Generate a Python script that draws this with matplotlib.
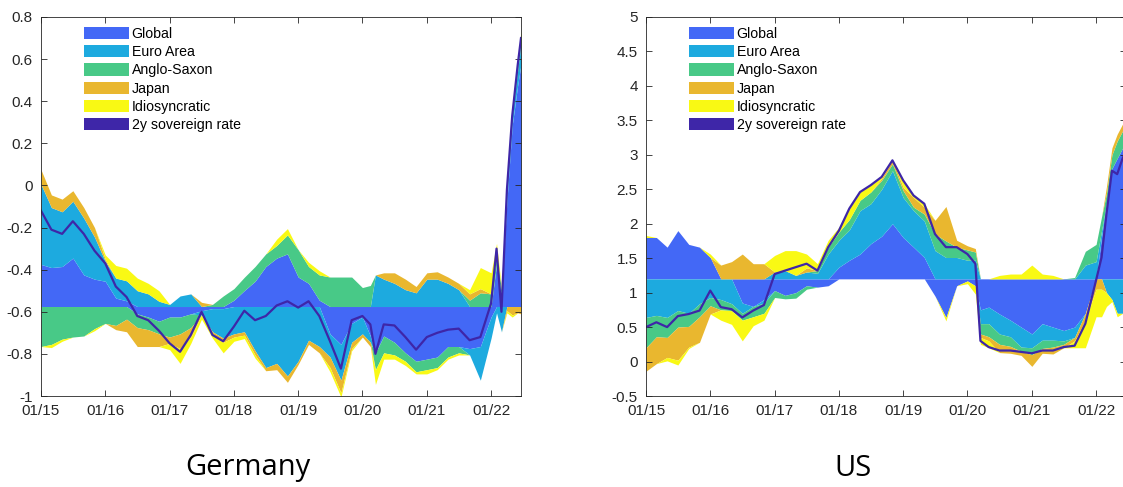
import numpy as np
import pandas as pd
import matplotlib
matplotlib.use("Agg")
import matplotlib.pyplot as plt
import matplotlib.dates as mdates
from matplotlib.patches import Patch
from matplotlib.ticker import FuncFormatter

plt.rcParams['font.family'] = ['Liberation Sans', 'DejaVu Sans']

# sample dates (roughly every two months)
dates = pd.to_datetime([
    '2015-01-01', '2015-03-01', '2015-05-01', '2015-07-01', '2015-09-01', '2015-11-01',
    '2016-01-01', '2016-03-01', '2016-05-01', '2016-07-01', '2016-09-01', '2016-11-01',
    '2017-01-01', '2017-03-01', '2017-05-01', '2017-07-01', '2017-09-01', '2017-11-01',
    '2018-01-01', '2018-03-01', '2018-05-01', '2018-07-01', '2018-09-01', '2018-11-01',
    '2019-01-01', '2019-03-01', '2019-05-01', '2019-07-01', '2019-09-01', '2019-11-01',
    '2020-01-01', '2020-02-15', '2020-03-15', '2020-05-01', '2020-07-01', '2020-09-01', '2020-11-01',
    '2021-01-01', '2021-03-01', '2021-05-01', '2021-07-01', '2021-09-01', '2021-11-01',
    '2022-01-01', '2022-02-01', '2022-03-01', '2022-04-01', '2022-05-01', '2022-06-01', '2022-06-20',
])

components = ['Global', 'Euro Area', 'Anglo-Saxon', 'Japan', 'Idiosyncratic']
colors = ['#4368F6', '#1DAADF', '#48C987', '#E9B72F', '#F9F914']
line_color = '#3E26A8'

# Germany: contributions relative to the baseline
de_base = -0.575
de_global = [0.20, 0.185, 0.19, 0.23, 0.15, 0.13,
             0.12, 0.04, 0.027, -0.035, -0.05, -0.07,
             -0.05, -0.05, -0.035, -0.02, -0.01, -0.01,
             0.03, 0.076, 0.12, 0.19, 0.23, 0.25,
             0.14, 0.11, 0.03, -0.13, -0.18, -0.08,
             -0.05, -0.14, -0.22, -0.14, -0.17, -0.22, -0.26,
             -0.25, -0.24, -0.19, -0.19, -0.20, -0.19,
             -0.05, 0.20, 0.05, 0.50, 0.86, 1.05, 1.15]
de_euro = [0.38, 0.285, 0.26, 0.27, 0.27, 0.20,
           0.095, 0.095, 0.095, 0.075, 0.06, 0.025,
           0.01, 0.05, 0.06, -0.02, -0.11, -0.14,
           -0.13, -0.12, -0.21, -0.29, -0.27, -0.33,
           -0.26, -0.16, -0.19, -0.11, -0.17, -0.09,
           -0.08, -0.03, 0.15, 0.13, 0.11, 0.08, 0.065,
           0.13, 0.13, 0.11, 0.08, -0.03, -0.16,
           -0.10, -0.03, -0.12, 0.06, 0.05, 0.07, 0.10]
de_anglo = [-0.19, -0.18, -0.155, -0.145, -0.14, -0.105,
            -0.08, -0.09, -0.06, -0.065, -0.06, -0.06,
            -0.095, -0.08, -0.065, 0.0, 0.01, 0.05,
            0.055, 0.063, 0.07, 0.06, 0.06, 0.09,
            0.13, 0.08, 0.12, 0.14, 0.14, 0.14,
            0.09, 0.10, -0.08, -0.08, -0.06, -0.04, -0.05,
            -0.05, -0.05, -0.05, -0.03, 0.03, 0.065,
            0.06, 0.05, 0.03, 0.02, 0.04, 0.03, 0.04]
de_japan = [0.07, 0.06, 0.06, 0.05, 0.05, 0.045,
            0.01, -0.02, -0.06, -0.09, -0.08, -0.06,
            -0.03, -0.07, -0.045, 0.02, -0.01, -0.02,
            -0.015, -0.016, -0.02, -0.015, -0.03, -0.03,
            -0.015, -0.02, -0.03, -0.05, -0.06, -0.03,
            -0.015, -0.02, 0.0, 0.03, 0.05, 0.05, 0.03,
            0.03, 0.035, 0.03, 0.03, 0.03, 0.02,
            0.0, 0.0, 0.0, -0.02, -0.04, -0.03, -0.035]
de_idio = [0.0, -0.015, -0.01, 0.0, 0.0, -0.01,
           0.02, 0.06, 0.06, 0.06, 0.05, 0.05,
           -0.03, -0.07, -0.03, -0.02, -0.02, -0.05,
           -0.02, -0.016, -0.015, 0.0, 0.03, 0.03,
           0.0, 0.02, 0.02, -0.02, -0.02, -0.01,
           0.0, 0.0, -0.07, -0.03, -0.02, -0.02, -0.01,
           -0.02, -0.01, -0.01, -0.01, 0.02, 0.10,
           0.10, 0.05, 0.01, -0.01, -0.01, 0.02, 0.02]
de_rate = [-0.12, -0.21, -0.23, -0.17, -0.23, -0.31,
           -0.37, -0.48, -0.53, -0.62, -0.64, -0.69,
           -0.75, -0.79, -0.71, -0.60, -0.71, -0.74,
           -0.67, -0.595, -0.64, -0.62, -0.57, -0.55,
           -0.58, -0.55, -0.62, -0.74, -0.87, -0.64,
           -0.62, -0.66, -0.80, -0.66, -0.665, -0.72, -0.78,
           -0.72, -0.70, -0.685, -0.68, -0.735, -0.72,
           -0.56, -0.30, -0.60, -0.02, 0.33, 0.57, 0.70]

# US
us_base = 1.2
us_global = [0.60, 0.60, 0.46, 0.70, 0.50, 0.46,
             0.31, 0.0, 0.0, -0.35, -0.40, -0.30,
             -0.17, -0.24, -0.20, -0.10, -0.12, -0.10,
             0.17, 0.27, 0.36, 0.51, 0.62, 0.80,
             0.60, 0.46, 0.31, -0.25, -0.56, -0.10,
             -0.03, -0.10, -0.45, -0.41, -0.51, -0.60, -0.70,
             -0.80, -0.65, -0.70, -0.75, -0.70, -0.50,
             0.0, 0.60, 1.09, 1.60, 1.75, 1.90, 1.95]
us_euro = [-0.56, -0.53, -0.56, -0.46, -0.50, -0.36,
           -0.27, -0.30, -0.36, -0.15, 0.0, -0.05,
           0.10, 0.12, 0.05, 0.10, 0.08, 0.36,
           0.39, 0.44, 0.63, 0.58, 0.68, 0.77,
           0.58, 0.53, 0.53, 0.41, 0.31, 0.31,
           0.27, 0.27, -0.20, -0.24, -0.29, -0.24, -0.29,
           -0.20, -0.24, -0.19, -0.15, -0.15, 0.20,
           0.25, 0.10, -0.20, -0.30, -0.50, -0.50, -0.45]
us_anglo = [-0.44, -0.31, -0.29, -0.24, -0.19, -0.19,
            -0.12, -0.15, -0.10, -0.10, -0.15, -0.15,
            -0.10, -0.05, -0.08, -0.05, 0.04, 0.10,
            0.12, 0.15, 0.15, 0.17, 0.13, 0.10,
            0.10, 0.05, 0.10, 0.24, 0.24, 0.15,
            0.15, 0.12, -0.15, -0.19, -0.15, -0.14, -0.06,
            -0.10, -0.12, -0.10, -0.05, 0.02, 0.20,
            0.25, 0.20, 0.15, 0.20, 0.25, 0.25, 0.25]
us_japan = [-0.34, -0.39, -0.29, -0.48, -0.30, -0.37,
            -0.12, 0.20, 0.25, 0.36, 0.22, 0.22,
            0.0, 0.0, 0.0, 0.06, 0.0, 0.0,
            0.0, 0.0, 0.0, 0.0, 0.03, 0.05,
            0.05, 0.14, 0.10, 0.20, 0.50, 0.10,
            0.06, 0.05, -0.05, -0.06, -0.12, -0.10, -0.06,
            -0.17, -0.07, -0.10, -0.05, -0.05, -0.10,
            -0.15, -0.15, 0.10, 0.10, 0.10, 0.10, 0.10]
us_idio = [0.03, 0.0, -0.05, -0.07, -0.02, 0.0,
           0.05, -0.15, -0.20, -0.30, -0.13, -0.10,
           0.24, 0.29, 0.36, 0.20, 0.10, 0.10,
           0.07, 0.16, 0.12, 0.10, 0.02, 0.0,
           0.10, 0.03, 0.05, 0.0, -0.05, 0.0,
           -0.04, -0.12, -0.10, -0.10, 0.05, 0.07, 0.07,
           0.20, 0.07, 0.05, 0.0, -0.10, -0.40,
           -0.40, -0.40, -0.20, -0.03, -0.05, 0.0, 0.0]
us_rate = [0.50, 0.57, 0.50, 0.66, 0.69, 0.74,
           1.03, 0.79, 0.76, 0.64, 0.74, 0.82,
           1.27, 1.32, 1.37, 1.42, 1.32, 1.66,
           1.90, 2.22, 2.46, 2.56, 2.68, 2.92,
           2.63, 2.41, 2.29, 1.85, 1.66, 1.66,
           1.56, 1.42, 0.30, 0.21, 0.16, 0.16, 0.14,
           0.12, 0.16, 0.16, 0.21, 0.23, 0.55,
           1.18, 1.51, 2.14, 2.77, 2.72, 2.95, 3.05]


def draw(ax, base, parts, rate, yticks):
    parts = np.array(parts, dtype=float)
    pos = np.clip(parts, 0, None)
    neg = np.clip(parts, None, 0)
    low_p = np.full(len(dates), base)
    low_n = np.full(len(dates), base)
    for i in range(len(parts)):
        ax.fill_between(dates, low_p, low_p + pos[i], color=colors[i], lw=0)
        ax.fill_between(dates, low_n, low_n + neg[i], color=colors[i], lw=0)
        low_p = low_p + pos[i]
        low_n = low_n + neg[i]
    ax.plot(dates, rate, color=line_color, lw=1.6)

    ax.set_xlim(pd.Timestamp('2015-01-01'), pd.Timestamp('2022-06-20'))
    ax.set_ylim(yticks[0], yticks[-1])
    ax.set_yticks(yticks)
    ax.yaxis.set_major_formatter(FuncFormatter(lambda v, _: '%g' % (round(v, 6) + 0.0)))
    ax.set_xticks(pd.to_datetime(['%d-01-01' % y for y in range(2015, 2023)]))
    ax.xaxis.set_major_formatter(mdates.DateFormatter('%m/%y'))
    ax.tick_params(direction='in', length=4, top=True, right=True,
                   labelsize=11, colors='#262626', width=0.6)
    ax.tick_params(axis='x', pad=6)
    ax.tick_params(axis='y', pad=6)
    for s in ax.spines.values():
        s.set_color('#262626')
        s.set_linewidth(0.6)

    handles = [Patch(facecolor=c, edgecolor='none') for c in colors]
    handles.append(Patch(facecolor=line_color, edgecolor='none'))
    ax.legend(handles, components + ['2y sovereign rate'], loc='upper left',
              bbox_to_anchor=(0.068, 1.0), frameon=False, fontsize=10.2,
              handlelength=3.2, handleheight=0.95, handletextpad=0.2,
              labelspacing=0.3, borderaxespad=0.3)


fig = plt.figure(figsize=(11.23, 4.87), dpi=100)
ax1 = fig.add_axes([41 / 1123, 1 - 396 / 487, 480 / 1123, 379 / 487])
ax2 = fig.add_axes([646 / 1123, 1 - 396 / 487, 480 / 1123, 379 / 487])

draw(ax1, de_base, [de_global, de_euro, de_anglo, de_japan, de_idio], de_rate,
     np.round(np.arange(-1.0, 0.81, 0.2), 1))
draw(ax2, us_base, [us_global, us_euro, us_anglo, us_japan, us_idio], us_rate,
     np.round(np.arange(-0.5, 5.01, 0.5), 1))

fig.text(248 / 1123, 1 - 468 / 487, 'Germany', ha='center', va='center',
         fontsize=21, family=['Open Sans', 'DejaVu Sans'])
fig.text(853 / 1123, 1 - 468 / 487, 'US', ha='center', va='center',
         fontsize=21, family=['Open Sans', 'DejaVu Sans'])

fig.savefig('out.png', dpi=100)
